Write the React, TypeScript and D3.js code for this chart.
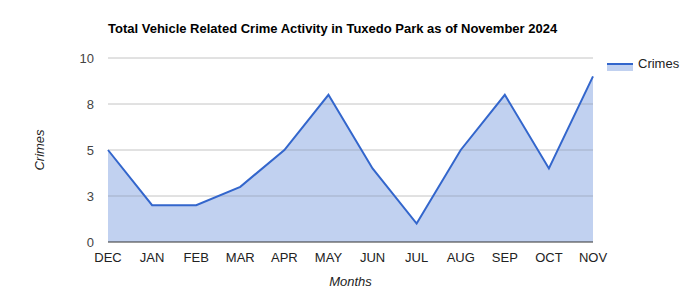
import React from "react";
import * as d3 from "d3";

const months = ["DEC", "JAN", "FEB", "MAR", "APR", "MAY", "JUN", "JUL", "AUG", "SEP", "OCT", "NOV"];
const crimes = [5, 2, 2, 3, 5, 8, 4, 1, 5, 8, 4, 9];
const yTicks = [0, 2.5, 5, 7.5, 10];
const yTickLabels = ["0", "3", "5", "8", "10"];
const title = "Total Vehicle Related Crime Activity in Tuxedo Park as of November 2024";
const seriesName = "Crimes";
const xTitle = "Months";
const yTitle = "Crimes";

const W = 700, H = 300;
const left = 108, right = 593, top = 58, bottom = 242;
const font = "Arial, 'Liberation Sans', sans-serif";

export default function App() {
  const x = d3.scalePoint<string>().domain(months).range([left, right]);
  const y = d3.scaleLinear().domain([0, 10]).range([bottom, top]);
  const data = months.map((m, i) => ({ m, v: crimes[i] }));
  const area = d3.area<{ m: string; v: number }>().x(d => x(d.m)!).y0(y(0)).y1(d => y(d.v));
  const line = d3.line<{ m: string; v: number }>().x(d => x(d.m)!).y(d => y(d.v));
  return (
    <svg width={W} height={H} style={{ position: "absolute", left: 0, top: 0 }} fontFamily={font}>
      <rect width={W} height={H} fill="#fff" />
      <text x={108} y={33} fontSize={13} fontWeight="bold" fill="#000">{title}</text>
      {yTicks.map((t, i) => (
        <g key={t}>
          {t !== 0 && <line x1={left} x2={right} y1={y(t)} y2={y(t)} stroke="#cccccc" strokeWidth={1} />}
          <text x={94} y={y(t) + 5} fontSize={13} textAnchor="end" fill="#444">{yTickLabels[i]}</text>
        </g>
      ))}
      <path d={area(data)!} fill="#3366cc" fillOpacity={0.3} />
      {yTicks.filter(t => t !== 0).map(t => (
        <line key={"o" + t} x1={left} x2={right} y1={y(t)} y2={y(t)} stroke="#cccccc" strokeOpacity={0.25} strokeWidth={1} />
      ))}
      <line x1={left} x2={right} y1={y(0)} y2={y(0)} stroke="#333" strokeWidth={1} />
      <path d={line(data)!} fill="none" stroke="#3366cc" strokeWidth={2} />
      {months.map(m => (
        <text key={m} x={x(m)} y={262} fontSize={13} textAnchor="middle" fill="#222">{m}</text>
      ))}
      <text x={(left + right) / 2} y={286} fontSize={13} fontStyle="italic" textAnchor="middle" fill="#222">{xTitle}</text>
      <text transform={`translate(44,${(top + bottom) / 2}) rotate(-90)`} fontSize={13} fontStyle="italic" textAnchor="middle" fill="#222">{yTitle}</text>
      <rect x={607} y={64} width={26} height={7} fill="#3366cc" fillOpacity={0.3} />
      <line x1={607} x2={633} y1={64} y2={64} stroke="#3366cc" strokeWidth={2} />
      <text x={638} y={68} fontSize={13} fill="#222">{seriesName}</text>
    </svg>
  );
}
